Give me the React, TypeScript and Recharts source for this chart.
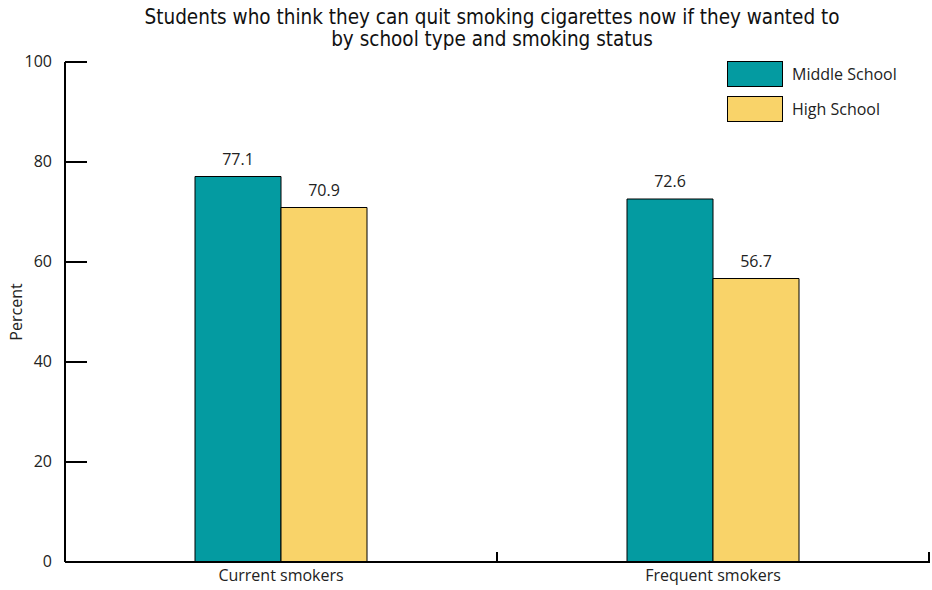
import { BarChart, Bar, XAxis, YAxis, LabelList } from "recharts";

// Значения
const categories = ["Current smokers", "Frequent smokers"];
const middleSchool = [77.1, 72.6];
const highSchool = [70.9, 56.7];
const yTicks = [0, 20, 40, 60, 80, 100];
const seriesNames = ["Middle School", "High School"];

const TEAL = "#049ba1";
const YELLOW = "#f9d369";
const FONT = "'Open Sans', 'Noto Sans', sans-serif";

const data = categories.map((name, i) => ({
  name,
  middle: middleSchool[i],
  high: highSchool[i],
}));

const W = 932;
const H = 590;
const PLOT_LEFT = 65;
const PLOT_RIGHT = 929;
const BAND = (PLOT_RIGHT - PLOT_LEFT) / categories.length;

// Засечки оси Y смотрят внутрь графика
const YTick = (props: any) => {
  const { x, y, payload } = props;
  return (
    <g>
      <line x1={x} x2={x + 22} y1={y} y2={y} stroke="#000" strokeWidth={2} />
      <text x={x - 13} y={y} dy={5} textAnchor="end" fontSize={16} fill="#222" fontFamily={FONT}>
        {payload.value}
      </text>
    </g>
  );
};

// Засечки оси X стоят на границах категорий
const XTick = (props: any) => {
  const { x, y, payload } = props;
  const bx = x + BAND / 2;
  return (
    <g>
      <line x1={bx} x2={bx} y1={y - 1} y2={y - 12} stroke="#000" strokeWidth={2} />
      <text x={x} y={y + 17} textAnchor="middle" fontSize={16} fill="#222" fontFamily={FONT}>
        {payload.value}
      </text>
    </g>
  );
};

const LegendBox = () => (
  <div
    style={{
      position: "absolute",
      left: 727,
      top: 56,
      fontFamily: FONT,
      fontSize: 16,
      color: "#222",
    }}
  >
    {seriesNames.map((label, i) => (
      <div key={label} style={{ display: "flex", alignItems: "center", height: 35 }}>
        <div
          style={{
            width: 54,
            height: 24,
            background: i === 0 ? TEAL : YELLOW,
            border: "1px solid #000",
            marginRight: 9,
          }}
        />
        <span>{label}</span>
      </div>
    ))}
  </div>
);

export default function App() {
  return (
    <div style={{ position: "absolute", left: 0, top: 0, width: W, height: H, background: "#fff" }}>
      <BarChart
        width={W}
        height={H}
        data={data}
        margin={{ top: 62, right: W - PLOT_RIGHT, bottom: 0, left: 0 }}
        barGap={0}
        barCategoryGap={130}
      >
        <XAxis
          dataKey="name"
          height={28}
          axisLine={{ stroke: "#000", strokeWidth: 2 }}
          tickLine={false}
          tickSize={0}
          tick={<XTick />}
        />
        <YAxis
          width={PLOT_LEFT}
          domain={[0, 100]}
          ticks={yTicks}
          interval={0}
          axisLine={{ stroke: "#000", strokeWidth: 2 }}
          tickLine={false}
          tickSize={0}
          tickMargin={0}
          tick={<YTick />}
          label={{
            value: "Percent",
            angle: -90,
            position: "insideLeft",
            offset: 16,
            style: { fontFamily: FONT, fontSize: 16, fill: "#222", textAnchor: "middle" },
          }}
        />
        <Bar dataKey="middle" name={seriesNames[0]} fill={TEAL} stroke="#000" strokeWidth={1} isAnimationActive={false}>
          <LabelList dataKey="middle" position="top" offset={12} style={{ fontFamily: FONT, fontSize: 16, fill: "#222" }} />
        </Bar>
        <Bar dataKey="high" name={seriesNames[1]} fill={YELLOW} stroke="#000" strokeWidth={1} isAnimationActive={false}>
          <LabelList dataKey="high" position="top" offset={12} style={{ fontFamily: FONT, fontSize: 16, fill: "#222" }} />
        </Bar>
      </BarChart>
      <div
        style={{
          position: "absolute",
          left: 0,
          top: 6,
          width: 984,
          textAlign: "center",
          fontFamily: "'Liberation Sans Narrow', 'DejaVu Sans Condensed', sans-serif",
          fontSize: 20.5,
          lineHeight: "22px",
          color: "#111",
        }}
      >
        Students who think they can quit smoking cigarettes now if they wanted to
        <br />
        by school type and smoking status
      </div>
      <LegendBox />
    </div>
  );
}
